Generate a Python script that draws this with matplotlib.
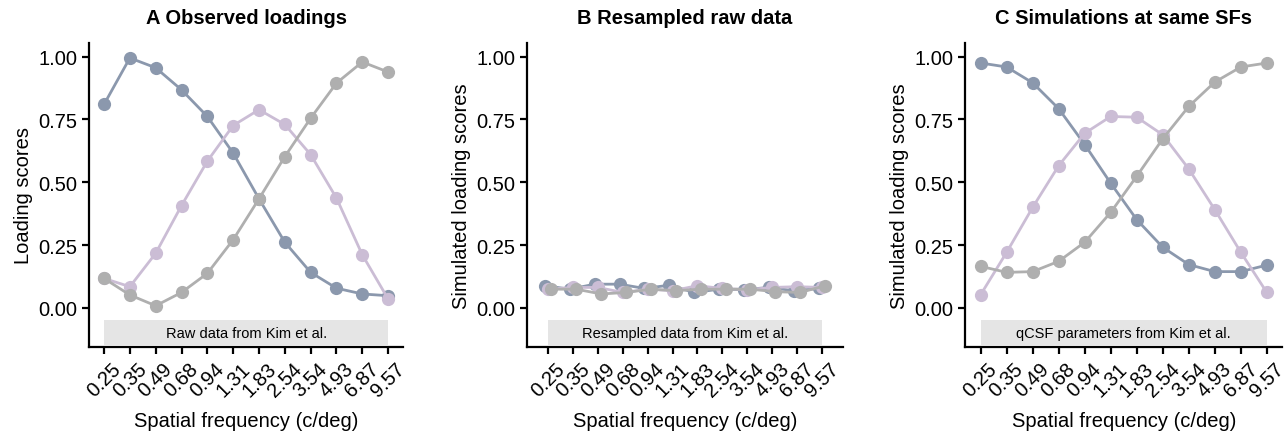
"""
plot.py — Loadings por frecuencia espacial (observado / remuestreado / simulado)
"""

import numpy as np
import matplotlib
matplotlib.use("Agg")
import matplotlib.pyplot as plt

# ─────────────────────────────────────────────────────────
#  Datos
# ─────────────────────────────────────────────────────────
SF_LABELS = ["0.25", "0.35", "0.49", "0.68", "0.94", "1.31",
             "1.83", "2.54", "3.54", "4.93", "6.87", "9.57"]

# A — loadings observados
obs_low  = [0.81, 0.995, 0.956, 0.868, 0.762, 0.616, 0.434, 0.261, 0.141, 0.078, 0.055, 0.048]
obs_mid  = [0.117, 0.084, 0.217, 0.407, 0.584, 0.726, 0.789, 0.730, 0.610, 0.437, 0.211, 0.035]
obs_high = [0.117, 0.051, 0.008, 0.061, 0.137, 0.271, 0.434, 0.602, 0.755, 0.895, 0.979, 0.939]

# B — datos remuestreados
res_low  = [0.088, 0.074, 0.094, 0.094, 0.077, 0.090, 0.061, 0.074, 0.072, 0.081, 0.068, 0.077]
res_mid  = [0.074, 0.081, 0.081, 0.061, 0.074, 0.068, 0.088, 0.077, 0.072, 0.081, 0.084, 0.081]
res_high = [0.074, 0.074, 0.055, 0.061, 0.074, 0.068, 0.074, 0.074, 0.074, 0.064, 0.061, 0.088]

# C — simulaciones qCSF
sim_low  = [0.975, 0.959, 0.896, 0.793, 0.650, 0.496, 0.351, 0.241, 0.172, 0.144, 0.144, 0.170]
sim_mid  = [0.052, 0.221, 0.400, 0.566, 0.695, 0.762, 0.759, 0.689, 0.553, 0.391, 0.221, 0.061]
sim_high = [0.165, 0.141, 0.144, 0.185, 0.261, 0.380, 0.524, 0.673, 0.802, 0.899, 0.959, 0.975]

COLORS = ["#8b98ad", "#cbbdd5", "#afafaf"]

plt.rcParams["font.family"] = ["Liberation Sans", "DejaVu Sans"]


# ─────────────────────────────────────────────────────────
#  Panel
# ─────────────────────────────────────────────────────────
def draw_panel(ax, series, title, ylabel, band_text, dodge=0.0, xpad=0.58):
    x = np.arange(len(SF_LABELS))
    offsets = [-dodge, 0.0, dodge]
    for vals, col, off in zip(series, COLORS, offsets):
        ax.plot(x + off, vals, "o-", color=col, lw=2.0, ms=9.5,
                markeredgewidth=0, solid_capstyle="round")

    ax.fill_between([0, len(SF_LABELS) - 1], -0.15, -0.05,
                    color="#e5e5e5", lw=0, zorder=0)
    ax.text((len(SF_LABELS) - 1) / 2, -0.1, band_text,
            ha="center", va="center", fontsize=10.5)

    ax.set_xlim(-xpad, len(SF_LABELS) - 1 + xpad)
    ax.set_ylim(-0.155, 1.055)
    ax.set_xticks(x)
    ax.set_xticklabels(SF_LABELS, rotation=45, ha="center", fontsize=14.5)
    ax.set_yticks([0, 0.25, 0.5, 0.75, 1.0])
    ax.set_yticklabels(["0.00", "0.25", "0.50", "0.75", "1.00"], fontsize=14.5)
    ax.tick_params(width=1.6, length=5)

    for side in ["top", "right"]:
        ax.spines[side].set_visible(False)
    for side in ["left", "bottom"]:
        ax.spines[side].set_linewidth(1.6)

    ax.set_xlabel("Spatial frequency (c/deg)", fontsize=14.5, labelpad=8)
    ax.set_ylabel(ylabel, fontsize=14.5)
    ax.set_title(title, fontsize=14.5, fontweight="bold", pad=14)


def main():
    fig = plt.figure(figsize=(12.85, 4.39), dpi=100)
    ax_a = fig.add_axes([0.0693, 0.208, 0.2444, 0.692])
    ax_b = fig.add_axes([0.4101, 0.208, 0.2460, 0.692])
    ax_c = fig.add_axes([0.7510, 0.208, 0.2470, 0.692])

    draw_panel(ax_a, [obs_low, obs_mid, obs_high], "A Observed loadings",
               "Loading scores", "Raw data from Kim et al.")
    draw_panel(ax_b, [res_low, res_mid, res_high], "B Resampled raw data",
               "Simulated loading scores", "Resampled data from Kim et al.",
               dodge=0.13, xpad=0.85)
    draw_panel(ax_c, [sim_low, sim_mid, sim_high], "C Simulations at same SFs",
               "Simulated loading scores", "qCSF parameters from Kim et al.",
               xpad=0.6)

    fig.savefig("out.png", dpi=100)


if __name__ == "__main__":
    main()
